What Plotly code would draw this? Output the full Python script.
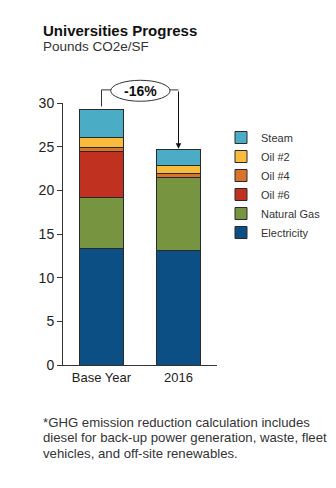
import plotly.graph_objects as go

# Emissions intensity by source (pounds CO2e per square foot)
categories = ["Base Year", "2016"]
electricity = [13.3, 13.1]
natural_gas = [5.9, 8.4]
oil_6 = [5.2, 0.0]
oil_4 = [0.5, 0.4]
oil_2 = [1.1, 0.9]
steam = [3.2, 1.9]

series_names = ["Electricity", "Natural Gas", "Oil #6", "Oil #4", "Oil #2", "Steam"]
series_values = [electricity, natural_gas, oil_6, oil_4, oil_2, steam]
series_colors = ["#0B4F84", "#779440", "#C0311F", "#D9722F", "#F9BB3C", "#4BACC6"]

change_label = "-16%"
footnote_lines = [
    "*GHG emission reduction calculation includes",
    "diesel for back-up power generation, waste, fleet",
    "vehicles, and off-site renewables.",
]

FONT = "Liberation Sans, Arial, sans-serif"
INK = "#333333"

W, H = 336, 488
M_L, M_R, M_T, M_B = 63, 119, 103, 123
PLOT_W = W - M_L - M_R
PLOT_H = H - M_T - M_B
Y_MAX = 30

fig = go.Figure()
for name, vals, col in zip(series_names, series_values, series_colors):
    fig.add_trace(go.Bar(
        x=categories, y=vals, name=name,
        marker=dict(color=col, line=dict(color="#2a2a2a", width=1)),
        hoverinfo="skip",
    ))

totals = [sum(v[i] for v in series_values) for i in range(len(categories))]


def px(i):
    # paper x of category i for an axis spanning [-0.5, n-0.5]
    return (i + 0.5) / len(categories)


def py(v):
    return v / Y_MAX


def page_x(p):
    return (p - M_L) / PLOT_W


def page_y(p):
    return (H - M_B - p) / PLOT_H


bracket_y = py(31.5)
x_a, x_b = px(0), px(1)
shapes = [
    # left leg of the comparison bracket
    dict(type="line", xref="paper", yref="paper", x0=x_a, x1=x_a,
         y0=py(totals[0] + 0.4), y1=bracket_y, line=dict(color=INK, width=1)),
    dict(type="line", xref="paper", yref="paper", x0=x_a, x1=0.5,
         y0=bracket_y, y1=bracket_y, line=dict(color=INK, width=1)),
    dict(type="line", xref="paper", yref="paper", x0=0.5, x1=x_b,
         y0=bracket_y, y1=bracket_y, line=dict(color=INK, width=1)),
    # oval holding the change label
    dict(type="circle", xref="paper", yref="paper", x0=0.31, x1=0.695,
         y0=py(30.2), y1=py(32.6), fillcolor="white",
         line=dict(color=INK, width=1)),
]

annotations = [
    dict(text="<b>%s</b>" % change_label, xref="paper", yref="paper",
         x=0.503, y=py(31.4), xanchor="center", yanchor="middle",
         showarrow=False, font=dict(family=FONT, size=14, color="#111111")),
    # right leg with arrow down to the 2016 total
    dict(text="", xref="paper", yref="paper", x=x_b, y=py(totals[1] + 0.05),
         ax=0, ay=-(bracket_y - py(totals[1] + 0.05)) * PLOT_H,
         showarrow=True, arrowhead=2, arrowsize=1.1, arrowwidth=1,
         arrowcolor="#111111", standoff=0),
    dict(text="<b>Universities Progress</b>", xref="paper", yref="paper",
         x=page_x(41), y=page_y(30), xanchor="left", yanchor="middle",
         showarrow=False, font=dict(family=FONT, size=15, color="#111111")),
    dict(text="Pounds CO2e/SF", xref="paper", yref="paper",
         x=page_x(41), y=page_y(46.5), xanchor="left", yanchor="middle",
         showarrow=False, font=dict(family=FONT, size=13.5, color=INK)),
]
for k, line in enumerate(footnote_lines):
    annotations.append(dict(
        text=line, xref="paper", yref="paper",
        x=page_x(41), y=page_y(422 + 15.5 * k), xanchor="left",
        yanchor="middle", showarrow=False,
        font=dict(family=FONT, size=13.2, color=INK)))

fig.update_layout(
    width=W, height=H,
    margin=dict(l=M_L, r=M_R, t=M_T, b=M_B, pad=0, autoexpand=False),
    barmode="stack", bargap=0.44,
    paper_bgcolor="white", plot_bgcolor="white",
    font=dict(family=FONT, size=13, color=INK),
    showlegend=True,
    legend=dict(x=page_x(221), y=page_y(123), xanchor="left", yanchor="top",
                traceorder="reversed", font=dict(family=FONT, size=11, color=INK),
                bgcolor="rgba(0,0,0,0)", itemwidth=30),
    xaxis=dict(showline=True, linecolor=INK, linewidth=1, ticks="",
               tickfont=dict(size=13, color="#222222"), showgrid=False,
               range=[-0.5, 1.5]),
    yaxis=dict(range=[0, Y_MAX], tickvals=[0, 5, 10, 15, 20, 25, 30],
               showline=True, linecolor=INK, linewidth=1, ticks="outside",
               ticklen=5, tickcolor=INK, showgrid=False, zeroline=False,
               tickfont=dict(size=14, color="#222222")),
    shapes=shapes, annotations=annotations,
)

fig.write_html("out.html")
